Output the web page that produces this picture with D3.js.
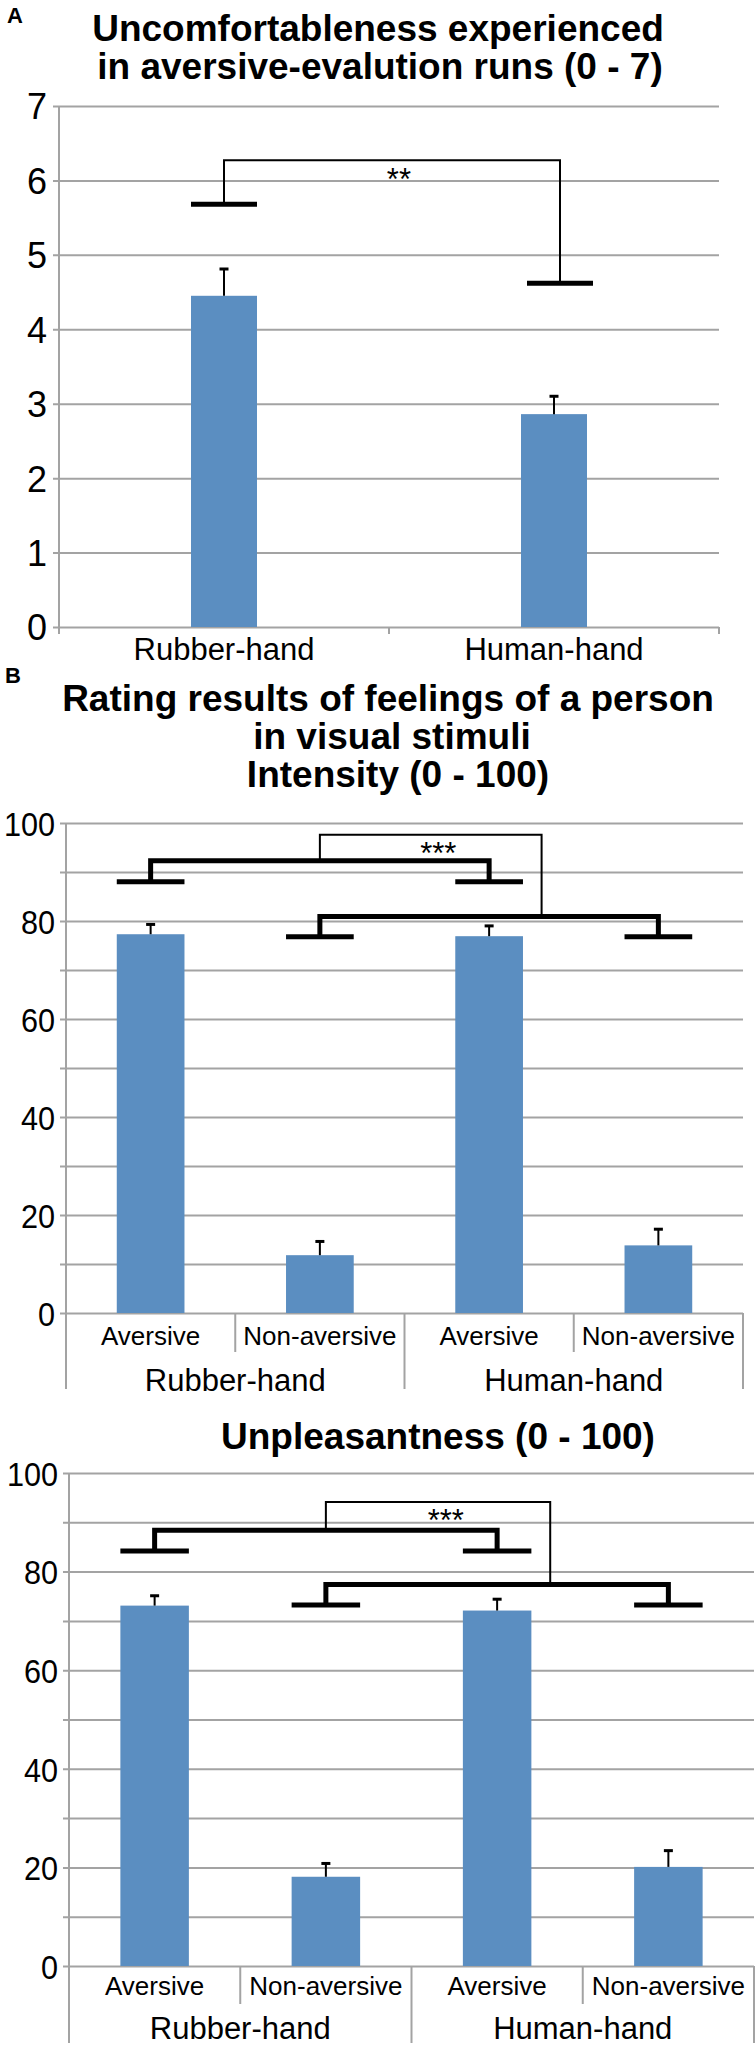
<!DOCTYPE html>
<html><head><meta charset="utf-8">
<script src="https://cdn.jsdelivr.net/npm/d3@7"></script>
<style>
body{margin:0;background:#fff}
text{font-family:"Liberation Sans",Arial,Helvetica,sans-serif;fill:#000}
</style>
</head><body>
<svg id="c" width="756" height="2048" viewBox="0 0 756 2048"></svg>
<script>
// ---------------- DATA ----------------
const catsA = ["Rubber-hand", "Human-hand"];
const meanA = [4.45, 2.86];
const errA = [0.36, 0.24];
const ticksA = [0, 1, 2, 3, 4, 5, 6, 7];
const sigCapsA = [5.68, 4.62];
const sigTopA = 6.27;
const sigLabelA = "**";

const groupsB = ["Rubber-hand", "Human-hand"];
const condsB = ["Aversive", "Non-aversive"];
const meanInt = [77.3, 11.8, 76.9, 13.8];
const errInt = [2.0, 2.8, 2.1, 3.3];
const meanUnp = [73.1, 18.1, 72.1, 20.1];
const errUnp = [2.0, 2.7, 2.3, 3.3];
const ticksB = [0, 20, 40, 60, 80, 100];
const gridB = [0, 10, 20, 30, 40, 50, 60, 70, 80, 90, 100];
// [upper caps, upper bar, lower caps, lower bar, thin top]
const bracketInt = [88.0, 92.3, 76.8, 80.9, 97.6];
const bracketUnp = [84.2, 88.4, 73.2, 77.4, 94.1];
const sigLabelB = "***";

const titleA = ["Uncomfortableness experienced", "in aversive-evalution runs (0 - 7)"];
const titleB = ["Rating results of feelings of a person", "in visual stimuli", "Intensity (0 - 100)"];
const titleUnp = "Unpleasantness (0 - 100)";

// ---------------- STYLE ----------------
const BAR = "#5b8ec1";
const GRID = "#a3a3a3";
const svg = d3.select("#c");

function txt(x, y, s, size, weight, anchor){
  return svg.append("text").attr("x", x).attr("y", y).attr("font-size", size)
    .attr("font-weight", weight || "normal").attr("text-anchor", anchor || "middle").text(s);
}
function stretch(sel, sx){
  sel.each(function(){
    const n = this.getComputedTextLength();
    d3.select(this).attr("textLength", n * sx).attr("lengthAdjust", "spacingAndGlyphs");
  });
}

// ---------------- PANEL A ----------------
txt(7, 23, "A", 22, "bold", "start");
txt(378, 41, titleA[0], 37, "bold");
txt(380, 79, titleA[1], 37, "bold");

const xA = d3.scaleBand().domain(catsA).range([59, 719]);
const yA = d3.scaleLinear().domain([0, 7]).range([627, 106]);
const bwA = xA.bandwidth();

const gA = svg.append("g").attr("transform", "translate(59,0)")
  .call(d3.axisLeft(yA).tickValues(ticksA).tickSize(-(719 - 59)).tickFormat(""));
gA.select(".domain").remove();
gA.selectAll(".tick line").attr("x1", -6).attr("stroke", GRID).attr("stroke-width", 2);

svg.append("line").attr("x1", 59).attr("x2", 59).attr("y1", yA(7)).attr("y2", yA(0))
  .attr("stroke", GRID).attr("stroke-width", 2);
svg.selectAll(null).data([...catsA.map(c => xA(c)), 719]).enter().append("line")
  .attr("x1", d => d).attr("x2", d => d).attr("y1", yA(0)).attr("y2", yA(0) + 7)
  .attr("stroke", GRID).attr("stroke-width", 2);

const lA = svg.append("g").attr("transform", "translate(59,0)")
  .call(d3.axisLeft(yA).tickValues(ticksA).tickSize(0).tickPadding(12).tickFormat(d3.format("d")));
lA.select(".domain").remove();
lA.selectAll("text").attr("font-size", 36).attr("font-family", null).attr("fill", "#000").attr("dy", "0.36em");

svg.selectAll(null).data(catsA).enter().append("rect")
  .attr("x", (d) => xA(d) + bwA * 0.4).attr("width", bwA * 0.2)
  .attr("y", (d, i) => yA(meanA[i])).attr("height", (d, i) => yA(0) - yA(meanA[i]))
  .attr("fill", BAR);

catsA.forEach((c, i) => {
  const cx = xA(c) + bwA / 2;
  svg.append("line").attr("x1", cx).attr("x2", cx).attr("y1", yA(meanA[i])).attr("y2", yA(meanA[i] + errA[i]))
    .attr("stroke", "#000").attr("stroke-width", 2);
  svg.append("line").attr("x1", cx - 4.5).attr("x2", cx + 4.5).attr("y1", yA(meanA[i] + errA[i])).attr("y2", yA(meanA[i] + errA[i]))
    .attr("stroke", "#000").attr("stroke-width", 3);
});
catsA.forEach((c, i) => {
  const cx = xA(c) + bwA / 2 + (i === 1 ? 6 : 0);
  svg.append("line").attr("x1", cx - bwA * 0.1).attr("x2", cx + bwA * 0.1)
    .attr("y1", yA(sigCapsA[i])).attr("y2", yA(sigCapsA[i]))
    .attr("stroke", "#000").attr("stroke-width", 5);
});
{
  const c0 = xA(catsA[0]) + bwA / 2, c1 = xA(catsA[1]) + bwA / 2 + 6;
  svg.append("path").attr("d", `M${c0},${yA(sigCapsA[0])}V${yA(sigTopA)}H${c1}V${yA(sigCapsA[1])}`)
    .attr("fill", "none").attr("stroke", "#000").attr("stroke-width", 2);
  txt(59 + bwA * 1.03, yA(sigTopA) + 30, sigLabelA, 31, "normal");
}

catsA.forEach(c => txt(xA(c) + bwA / 2, 660, c, 31));

// ---------------- PANEL B ----------------
txt(5, 683, "B", 22, "bold", "start");
txt(388, 711, titleB[0], 37, "bold");
txt(392, 749, titleB[1], 37, "bold");
txt(398, 787, titleB[2], 37, "bold");
txt(438, 1449, titleUnp, 37, "bold");

function panelB(cfg){
  const { means, errs, br, x0, x1, y0, yTop, lvl1, lvl2, shortDiv, longDiv } = cfg;
  const keys = groupsB.flatMap(g => condsB.map(c => g + "|" + c));
  const x = d3.scaleBand().domain(keys).range([x0, x1]);
  const y = d3.scaleLinear().domain([0, 100]).range([y0, yTop]);
  const bw = x.bandwidth();
  const cx = i => x(keys[i]) + bw / 2;

  const g = svg.append("g").attr("transform", `translate(${x0},0)`)
    .call(d3.axisLeft(y).tickValues(gridB).tickSize(-(x1 - x0)).tickFormat(""));
  g.select(".domain").remove();
  g.selectAll(".tick line").attr("x1", -6).attr("stroke", GRID).attr("stroke-width", 2);
  svg.append("line").attr("x1", x0).attr("x2", x0).attr("y1", y(100)).attr("y2", y(0))
    .attr("stroke", GRID).attr("stroke-width", 2);

  const l = svg.append("g").attr("transform", `translate(${x0},0)`)
    .call(d3.axisLeft(y).tickValues(ticksB).tickSize(0).tickPadding(11));
  l.select(".domain").remove();
  l.selectAll("text").attr("font-size", 34).attr("font-family", null).attr("fill", "#000").attr("dy", "0.36em");
  stretch(l.selectAll("text"), 0.9);

  // category dividers
  const bounds = [...keys.map(k => x(k)), x1];
  svg.selectAll(null).data(bounds).enter().append("line")
    .attr("x1", d => d).attr("x2", d => d).attr("y1", y0)
    .attr("y2", (d, i) => y0 + (i % 2 === 0 ? longDiv : shortDiv))
    .attr("stroke", GRID).attr("stroke-width", 2);

  // bars
  svg.selectAll(null).data(keys).enter().append("rect")
    .attr("x", d => x(d) + bw * 0.3).attr("width", bw * 0.4)
    .attr("y", (d, i) => y(means[i])).attr("height", (d, i) => y(0) - y(means[i]))
    .attr("fill", BAR);
  keys.forEach((k, i) => {
    const c = cx(i);
    svg.append("line").attr("x1", c).attr("x2", c).attr("y1", y(means[i])).attr("y2", y(means[i] + errs[i]))
      .attr("stroke", "#000").attr("stroke-width", 2);
    svg.append("line").attr("x1", c - 4.5).attr("x2", c + 4.5).attr("y1", y(means[i] + errs[i])).attr("y2", y(means[i] + errs[i]))
      .attr("stroke", "#000").attr("stroke-width", 3);
  });

  // labels
  keys.forEach((k, i) => txt(cx(i), y0 + lvl1, condsB[i % 2], 26));
  groupsB.forEach(gname => txt(x(gname + "|" + condsB[0]) + bw, y0 + lvl2, gname, 31));

  // brackets
  const thick = (a, b, capV, barV) => {
    [a, b].forEach(i => {
      svg.append("line").attr("x1", cx(i) - bw * 0.2).attr("x2", cx(i) + bw * 0.2)
        .attr("y1", y(capV)).attr("y2", y(capV)).attr("stroke", "#000").attr("stroke-width", 5);
    });
    svg.append("path").attr("d", `M${cx(a)},${y(capV)}V${y(barV)}H${cx(b)}V${y(capV)}`)
      .attr("fill", "none").attr("stroke", "#000").attr("stroke-width", 5).attr("stroke-linejoin", "miter");
  };
  thick(0, 2, br[0], br[1]);
  thick(1, 3, br[2], br[3]);
  svg.append("path").attr("d", `M${x0 + bw * 1.5},${y(br[1])}V${y(br[4])}H${x0 + bw * 2.81}V${y(br[3])}`)
    .attr("fill", "none").attr("stroke", "#000").attr("stroke-width", 2);
  txt(x0 + bw * 2.2, y(br[4]) + 29, sigLabelB, 31);
}

panelB({ means: meanInt, errs: errInt, br: bracketInt, x0: 66, x1: 743, y0: 1313, yTop: 823,
  lvl1: 32, lvl2: 78, shortDiv: 39, longDiv: 76 });
panelB({ means: meanUnp, errs: errUnp, br: bracketUnp, x0: 69, x1: 754, y0: 1966, yTop: 1473,
  lvl1: 29, lvl2: 73, shortDiv: 38, longDiv: 77 });
</script>
</body></html>
